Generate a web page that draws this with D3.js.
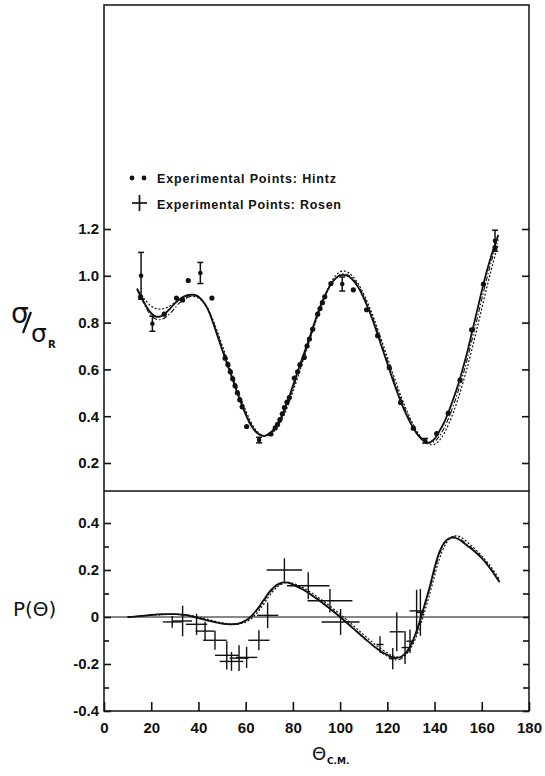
<!DOCTYPE html>
<html lang="en">
  <head>
    <meta charset="utf-8" />
    <title>Cross section ratio and polarization</title>
    <script src="https://d3js.org/d3.v7.min.js"></script>
    <style>
      body {
        margin: 0;
        background-color: #ffffff;
      }
      text {
        fill: #111;
      }
    </style>
  </head>
  <body>
    <div id="chart"></div>
    <script>
      // ---- data ----
      // theoretical curves, upper panel (sigma / sigma_R)
      const thetaFit = [14, 16, 18, 20, 22, 24, 26, 28, 30, 32, 34, 36, 38, 40, 42, 44, 46, 48, 50, 52, 54, 56, 58, 60, 62, 64, 66, 68, 70, 72, 74, 76, 78, 80, 82, 84, 86, 88, 90, 92, 94, 96, 98, 100, 102, 104, 106, 108, 110, 112, 114, 116, 118, 120, 122, 124, 126, 128, 130, 132, 134, 136, 138, 140, 142, 144, 146, 148, 150, 152, 154, 156, 158, 160, 162, 164, 166, 167];
      const sigSolid = [0.945, 0.905, 0.868, 0.84, 0.826, 0.827, 0.84, 0.86, 0.882, 0.9, 0.912, 0.918, 0.919, 0.912, 0.89, 0.857, 0.805, 0.745, 0.685, 0.628, 0.57, 0.513, 0.458, 0.408, 0.365, 0.336, 0.32, 0.316, 0.326, 0.345, 0.375, 0.418, 0.47, 0.53, 0.59, 0.648, 0.705, 0.765, 0.825, 0.88, 0.925, 0.962, 0.988, 1.002, 1.003, 0.995, 0.975, 0.945, 0.905, 0.858, 0.805, 0.745, 0.685, 0.625, 0.565, 0.508, 0.455, 0.408, 0.367, 0.333, 0.307, 0.29, 0.288, 0.303, 0.335, 0.372, 0.42, 0.475, 0.535, 0.605, 0.68, 0.765, 0.85, 0.935, 1.015, 1.085, 1.145, 1.175];
      const sigDotted = [0.945, 0.915, 0.89, 0.87, 0.86, 0.858, 0.862, 0.872, 0.885, 0.898, 0.907, 0.912, 0.912, 0.905, 0.887, 0.858, 0.815, 0.762, 0.705, 0.647, 0.59, 0.532, 0.476, 0.425, 0.38, 0.345, 0.325, 0.316, 0.32, 0.335, 0.362, 0.4, 0.448, 0.505, 0.565, 0.628, 0.69, 0.752, 0.815, 0.873, 0.925, 0.968, 1.0, 1.017, 1.02, 1.01, 0.99, 0.96, 0.922, 0.877, 0.826, 0.77, 0.712, 0.652, 0.593, 0.535, 0.48, 0.43, 0.384, 0.345, 0.313, 0.29, 0.279, 0.28, 0.296, 0.326, 0.367, 0.417, 0.476, 0.542, 0.614, 0.693, 0.776, 0.86, 0.945, 1.025, 1.1, 1.135];
      const sigDashDot = [0.94, 0.9, 0.86, 0.83, 0.815, 0.813, 0.822, 0.84, 0.862, 0.884, 0.9, 0.91, 0.914, 0.908, 0.888, 0.857, 0.81, 0.752, 0.693, 0.635, 0.577, 0.52, 0.465, 0.415, 0.372, 0.34, 0.322, 0.316, 0.322, 0.34, 0.368, 0.41, 0.46, 0.518, 0.578, 0.638, 0.697, 0.758, 0.818, 0.875, 0.922, 0.96, 0.988, 1.004, 1.008, 1.0, 0.982, 0.952, 0.913, 0.867, 0.815, 0.757, 0.697, 0.637, 0.578, 0.52, 0.467, 0.418, 0.376, 0.34, 0.312, 0.293, 0.286, 0.292, 0.314, 0.348, 0.393, 0.446, 0.507, 0.575, 0.65, 0.732, 0.815, 0.9, 0.983, 1.06, 1.125, 1.155];

      // experimental points, Hintz (dots)
      const hintzTheta = [15.5, 25.5, 30.7, 33.3, 35.7, 45.7, 51.3, 52.5, 53.5, 54.5, 55.5, 56.5, 57.5, 58.5, 60.4, 70.7, 72.5, 73.5, 74.5, 75.5, 76.4, 77.5, 78.5, 80.6, 82, 83, 84.8, 86, 87, 88.4, 90.5, 91.5, 92.5, 93.5, 96.1, 105.6, 111.2, 115.9, 120.8, 125.6, 131, 140.9, 145.8, 150.8, 155.7, 160.7, 165.6];
      const hintzSig = [0.91, 0.836, 0.905, 0.897, 0.98, 0.905, 0.648, 0.62, 0.59, 0.56, 0.53, 0.5, 0.47, 0.44, 0.356, 0.324, 0.35, 0.365, 0.385, 0.41, 0.437, 0.46, 0.48, 0.563, 0.59, 0.62, 0.651, 0.7, 0.73, 0.772, 0.836, 0.86, 0.885, 0.91, 0.967, 0.94, 0.855, 0.744, 0.608, 0.459, 0.349, 0.326, 0.413, 0.554, 0.769, 0.964, 1.12];

      // experimental points, Rosen (cross section with error bars)
      const rosenTheta = [15.7, 20.5, 40.8, 65.7, 100.9, 136, 165.6];
      const rosenSig = [1.0, 0.795, 1.012, 0.298, 0.965, 0.295, 1.15];
      const rosenSigErr = [0.1, 0.032, 0.045, 0.012, 0.03, 0.01, 0.045];

      // theoretical curves, lower panel (polarization)
      const thetaPol = [10, 15, 20, 25, 30, 35, 40, 45, 50, 54, 57, 60, 62, 64, 66, 68, 70, 72, 74, 76, 78, 80, 84, 88, 92, 96, 100, 104, 108, 112, 116, 120, 122, 124, 126, 128, 130, 132, 134, 136, 138, 140, 142, 144, 146, 148, 150, 152, 154, 156, 160, 164, 167.5];
      const polSolid = [0.0, 0.004, 0.009, 0.012, 0.012, 0.008, -0.005, -0.018, -0.028, -0.031, -0.028, -0.015, 0.0, 0.022, 0.048, 0.078, 0.106, 0.127, 0.141, 0.147, 0.146, 0.138, 0.118, 0.093, 0.064, 0.033, 0.0, -0.035, -0.07, -0.105, -0.137, -0.162, -0.171, -0.174, -0.168, -0.15, -0.118, -0.07, -0.01, 0.06, 0.13, 0.21, 0.275, 0.315, 0.334, 0.338, 0.332, 0.318, 0.302, 0.287, 0.25, 0.2, 0.148];
      const polDotted = [0.0, 0.003, 0.007, 0.01, 0.011, 0.009, 0.0, -0.013, -0.025, -0.03, -0.03, -0.022, -0.01, 0.008, 0.032, 0.06, 0.09, 0.115, 0.133, 0.143, 0.147, 0.143, 0.126, 0.102, 0.074, 0.044, 0.012, -0.022, -0.058, -0.093, -0.126, -0.153, -0.164, -0.17, -0.17, -0.158, -0.132, -0.09, -0.035, 0.03, 0.1, 0.175, 0.245, 0.297, 0.328, 0.344, 0.344, 0.334, 0.318, 0.3, 0.26, 0.212, 0.16];
      const polDashDot = [0.0, 0.004, 0.008, 0.011, 0.011, 0.007, -0.004, -0.016, -0.027, -0.03, -0.027, -0.016, -0.003, 0.017, 0.042, 0.071, 0.1, 0.123, 0.138, 0.146, 0.146, 0.14, 0.12, 0.095, 0.066, 0.035, 0.002, -0.033, -0.069, -0.106, -0.14, -0.168, -0.179, -0.183, -0.177, -0.158, -0.125, -0.077, -0.017, 0.053, 0.124, 0.196, 0.265, 0.31, 0.334, 0.341, 0.337, 0.324, 0.307, 0.292, 0.254, 0.205, 0.152];

      // experimental polarization, Rosen (crosses)
      const polTheta = [28.9, 33.3, 39.2, 42.8, 47, 52, 54, 57.2, 60.4, 65.6, 69.3, 76.4, 86.5, 95.7, 100.2, 116.9, 122.3, 124, 127.5, 129.6, 132.4, 134];
      const polVal = [-0.021, -0.017, -0.031, -0.06, -0.099, -0.163, -0.189, -0.175, -0.172, -0.099, 0.007, 0.2, 0.133, 0.069, -0.021, -0.117, -0.177, -0.063, -0.13, -0.103, 0.026, 0.02];
      const polThetaErr = [4, 4, 4.5, 4, 5, 5, 5, 4, 4.5, 4.5, 4.5, 7.5, 9, 9.5, 8, 1.5, 1.5, 3, 1.5, 1.5, 3, 1.5];
      const polValErr = [0.025, 0.065, 0.045, 0.04, 0.04, 0.06, 0.04, 0.055, 0.045, 0.043, 0.055, 0.05, 0.057, 0.05, 0.055, 0.035, 0.045, 0.083, 0.07, 0.05, 0.09, 0.1];

      const xTicks = [0, 20, 40, 60, 80, 100, 120, 140, 160, 180];
      const sigTicks = [0.2, 0.4, 0.6, 0.8, 1.0, 1.2];
      const polTicks = [-0.4, -0.2, 0, 0.2, 0.4];
      const polMinorTicks = [-0.3, -0.1, 0.1, 0.3];

      // ---- layout ----
      const W = 545, H = 776;
      const frameLeft = 104, frameRight = 529, frameTop = 5, frameSplit = 491, frameBottom = 711;

      const svg = d3
        .select("#chart")
        .append("svg")
        .attr("width", W)
        .attr("height", H)
        .style("font-family", "'DejaVu Sans', sans-serif");

      const x = d3.scaleLinear().domain([0, 180]).range([frameLeft, frameRight]);
      const ySig = d3.scaleLinear().domain([0.2, 1.2]).range([463, 229]);
      const yPol = d3.scaleLinear().domain([-0.4, 0.4]).range([frameBottom, 523]);

      // frame
      svg
        .append("rect")
        .attr("x", frameLeft)
        .attr("y", frameTop)
        .attr("width", frameRight - frameLeft)
        .attr("height", frameBottom - frameTop)
        .attr("fill", "none")
        .attr("stroke", "#111")
        .attr("stroke-width", 1.5);

      svg
        .append("line")
        .attr("x1", frameLeft)
        .attr("x2", frameRight)
        .attr("y1", frameSplit)
        .attr("y2", frameSplit)
        .attr("stroke", "#111")
        .attr("stroke-width", 1.4);

      // zero line in polarization panel
      svg
        .append("line")
        .attr("x1", frameLeft)
        .attr("x2", frameRight)
        .attr("y1", yPol(0))
        .attr("y2", yPol(0))
        .attr("stroke", "#111")
        .attr("stroke-width", 1.1);

      const tickFont = (g) =>
        g
          .style("font-size", "15px")
          .style("font-weight", "bold")
          .call((g) => g.select(".domain").remove())
          .call((g) => g.selectAll("line").attr("stroke", "#111").attr("stroke-width", 1.6));

      // left axes
      svg
        .append("g")
        .attr("transform", `translate(${frameLeft},0)`)
        .call(d3.axisLeft(ySig).tickValues(sigTicks).tickSize(-7).tickPadding(5).tickFormat(d3.format(".1f")))
        .call(tickFont);

      svg
        .append("g")
        .attr("transform", `translate(${frameLeft},0)`)
        .call(
          d3
            .axisLeft(yPol)
            .tickValues(polTicks)
            .tickSize(-7)
            .tickPadding(5)
            .tickFormat((d) => (d === 0 ? "0" : d3.format(".1f")(d).replace("\u2212", "-")))
        )
        .call(tickFont);

      svg
        .append("g")
        .attr("transform", `translate(${frameLeft},0)`)
        .call(d3.axisLeft(yPol).tickValues(polMinorTicks).tickSize(-5).tickFormat(""))
        .call(tickFont);

      // right axes (ticks only)
      svg
        .append("g")
        .attr("transform", `translate(${frameRight},0)`)
        .call(d3.axisRight(ySig).tickValues(sigTicks).tickSize(-7).tickFormat(""))
        .call(tickFont);

      svg
        .append("g")
        .attr("transform", `translate(${frameRight},0)`)
        .call(d3.axisRight(yPol).tickValues(polTicks.concat(polMinorTicks)).tickSize(-6).tickFormat(""))
        .call(tickFont);

      // bottom axis
      svg
        .append("g")
        .attr("transform", `translate(0,${frameBottom})`)
        .call(d3.axisBottom(x).tickValues(xTicks).tickSize(-9).tickPadding(11))
        .call(tickFont);

      // ---- curves ----
      const styles = [
        { dash: null, width: 1.8 },
        { dash: "2,1.8", width: 1.2 },
        { dash: "5,2,1.5,2", width: 1.1 },
      ];

      const lineSig = d3
        .line()
        .x((d) => x(d[0]))
        .y((d) => ySig(d[1]))
        .curve(d3.curveCatmullRom.alpha(0.5));

      const linePol = d3
        .line()
        .x((d) => x(d[0]))
        .y((d) => yPol(d[1]))
        .curve(d3.curveCatmullRom.alpha(0.5));

      [sigSolid, sigDotted, sigDashDot].forEach((vals, i) => {
        svg
          .append("path")
          .datum(thetaFit.map((t, j) => [t, vals[j]]))
          .attr("d", lineSig)
          .attr("fill", "none")
          .attr("stroke", "#111")
          .attr("stroke-width", styles[i].width)
          .attr("stroke-dasharray", styles[i].dash);
      });

      [polSolid, polDotted, polDashDot].forEach((vals, i) => {
        svg
          .append("path")
          .datum(thetaPol.map((t, j) => [t, vals[j]]))
          .attr("d", linePol)
          .attr("fill", "none")
          .attr("stroke", "#111")
          .attr("stroke-width", styles[i].width)
          .attr("stroke-dasharray", styles[i].dash);
      });

      // ---- Hintz points ----
      svg
        .append("g")
        .selectAll("circle")
        .data(hintzTheta.map((t, i) => [t, hintzSig[i]]))
        .join("circle")
        .attr("cx", (d) => x(d[0]))
        .attr("cy", (d) => ySig(d[1]))
        .attr("r", 2.6)
        .attr("fill", "#111");

      // ---- Rosen cross sections with error bars ----
      const rosen = rosenTheta.map((t, i) => ({ t, v: rosenSig[i], e: rosenSigErr[i] }));
      const rg = svg.append("g").attr("stroke", "#111").attr("stroke-width", 1.5);
      rosen.forEach((d) => {
        const cx = x(d.t);
        rg.append("line").attr("x1", cx).attr("x2", cx).attr("y1", ySig(d.v + d.e)).attr("y2", ySig(d.v - d.e));
        rg.append("line").attr("x1", cx - 3).attr("x2", cx + 3).attr("y1", ySig(d.v + d.e)).attr("y2", ySig(d.v + d.e));
        rg.append("line").attr("x1", cx - 3).attr("x2", cx + 3).attr("y1", ySig(d.v - d.e)).attr("y2", ySig(d.v - d.e));
        rg.append("circle").attr("cx", cx).attr("cy", ySig(d.v)).attr("r", 2.3).attr("fill", "#111").attr("stroke", "none");
      });

      // ---- Rosen polarization crosses ----
      const pg = svg.append("g").attr("stroke", "#111").attr("stroke-width", 1.4);
      polTheta.forEach((t, i) => {
        const v = polVal[i];
        pg.append("line").attr("x1", x(t - polThetaErr[i])).attr("x2", x(t + polThetaErr[i])).attr("y1", yPol(v)).attr("y2", yPol(v));
        pg.append("line").attr("x1", x(t)).attr("x2", x(t)).attr("y1", yPol(v + polValErr[i])).attr("y2", yPol(v - polValErr[i]));
      });

      // ---- legend ----
      const legend = svg.append("g").style("font-family", "'Liberation Sans', Arial, sans-serif").style("font-weight", "bold").style("font-size", "12.5px");
      legend.append("circle").attr("cx", 132).attr("cy", 178).attr("r", 2.4).attr("fill", "#111");
      legend.append("circle").attr("cx", 144).attr("cy", 178).attr("r", 2.4).attr("fill", "#111");
      legend
        .append("text")
        .attr("x", 157)
        .attr("y", 182.5)
        .attr("textLength", 179)
        .attr("lengthAdjust", "spacing")
        .text("Experimental  Points: Hintz");
      legend.append("line").attr("x1", 132).attr("x2", 147).attr("y1", 203).attr("y2", 203).attr("stroke", "#111").attr("stroke-width", 1.7);
      legend.append("line").attr("x1", 139.5).attr("x2", 139.5).attr("y1", 195).attr("y2", 211).attr("stroke", "#111").attr("stroke-width", 1.7);
      legend
        .append("text")
        .attr("x", 157)
        .attr("y", 208.5)
        .attr("textLength", 184)
        .attr("lengthAdjust", "spacing")
        .text("Experimental  Points: Rosen");

      // ---- axis titles ----
      svg.append("text").attr("x", 11).attr("y", 323).style("font-size", "28px").text("σ");
      svg
        .append("line")
        .attr("x1", 23)
        .attr("y1", 333)
        .attr("x2", 31)
        .attr("y2", 312)
        .attr("stroke", "#111")
        .attr("stroke-width", 2.2);
      svg.append("text").attr("x", 31).attr("y", 342).style("font-size", "25px").text("σ");
      svg.append("text").attr("x", 48).attr("y", 348).style("font-size", "10px").style("font-weight", "bold").text("R");

      svg.append("text").attr("x", 13).attr("y", 616).style("font-size", "20px").text("P(Θ)");

      svg.append("text").attr("x", 312).attr("y", 760).style("font-size", "18px").text("Θ");
      svg.append("text").attr("x", 327).attr("y", 764).style("font-size", "9px").style("font-weight", "bold").text("C.M.");
    </script>
  </body>
</html>
